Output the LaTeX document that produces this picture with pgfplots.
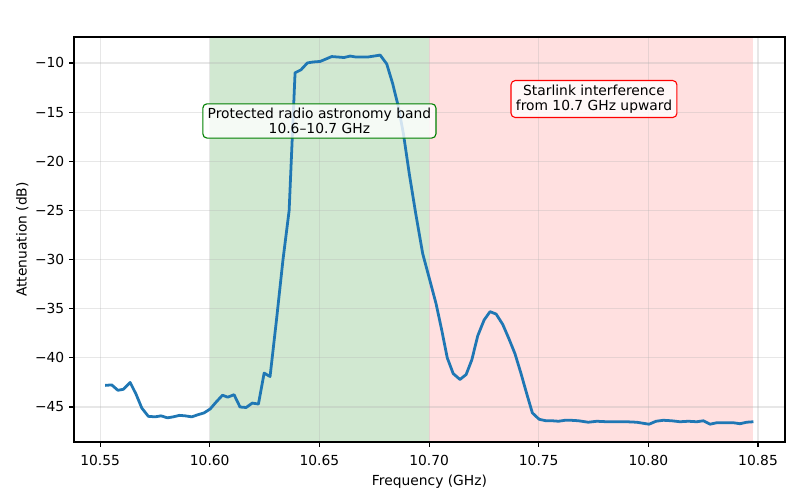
\documentclass[border=0pt]{standalone}
\usepackage{fontspec}
\setmainfont{DejaVu Sans}
\usepackage{pgfplots}
\pgfplotsset{compat=1.18}
\definecolor{mplblue}{HTML}{1F77B4}
\definecolor{bandgreen}{RGB}{209,232,209}
\definecolor{bandred}{RGB}{255,224,224}
\definecolor{gridgray}{RGB}{176,176,176}
\definecolor{boxgreen}{RGB}{0,128,0}
\definecolor{boxred}{RGB}{255,0,0}
\pgfplotsset{
  myaxis/.style={
    at={(53.28bp,41.76bp)}, anchor=south west,
    scale only axis, width=511.92bp, height=291.6bp,
    xmin=10.5381, xmax=10.8623, ymin=-48.56, ymax=-7.36,
  }
}
\begin{document}
\begin{tikzpicture}
\path[use as bounding box] (0,0) rectangle (576bp,360bp);
\begin{axis}[myaxis, hide axis]
\addplot[fill=bandgreen, draw=none] coordinates {(10.6,-50) (10.7,-50) (10.7,-5) (10.6,-5)};
\addplot[fill=bandred, draw=none] coordinates {(10.7,-50) (10.8479,-50) (10.8479,-5) (10.7,-5)};
\end{axis}
\begin{axis}[
  myaxis,
  axis line style={line width=0.8bp},
  tick align=outside, major tick length=3.5bp,
  every tick/.style={black, line width=0.8bp},
  xtick={10.55,10.60,10.65,10.70,10.75,10.80,10.85},
  xticklabels={10.55,10.60,10.65,10.70,10.75,10.80,10.85},
  ytick={-45,-40,-35,-30,-25,-20,-15,-10},
  yticklabels={−45,−40,−35,−30,−25,−20,−15,−10},
  xtick pos=bottom, ytick pos=left,
  tick label style={font=\fontsize{10}{12}\selectfont},
  xticklabel style={yshift=-2.5bp},
  grid=major,
  major grid style={gridgray, opacity=0.3, line width=0.8bp},
  xlabel={Frequency (GHz)}, ylabel={Attenuation (dB)},
  label style={font=\fontsize{10}{12}\selectfont},
  xlabel style={yshift=0bp},
  ylabel style={yshift=-2bp},
]
\addplot[mplblue, line width=2bp, line join=round] coordinates {
(10.5523,-42.8) (10.5553,-42.75) (10.5581,-43.3) (10.5606,-43.2) (10.5637,-42.5)
(10.5664,-43.7) (10.5690,-45.1) (10.5720,-45.95) (10.5751,-46.0) (10.5778,-45.9)
(10.5807,-46.1) (10.5834,-46.0) (10.5862,-45.85) (10.5888,-45.9) (10.5918,-46.0)
(10.5944,-45.8) (10.5974,-45.6) (10.6002,-45.2) (10.6029,-44.5) (10.6058,-43.8)
(10.6082,-44.0) (10.6111,-43.75) (10.6138,-45.0) (10.6166,-45.05) (10.6194,-44.6)
(10.6222,-44.7) (10.6248,-41.55) (10.6275,-41.9) (10.6305,-36.0) (10.6334,-30.0)
(10.6362,-25.0) (10.6389,-11.0) (10.6416,-10.7) (10.6445,-10.0) (10.6472,-9.9)
(10.6503,-9.85) (10.6530,-9.6) (10.6556,-9.35) (10.6586,-9.4) (10.6612,-9.45)
(10.6640,-9.3) (10.6667,-9.4) (10.6693,-9.4) (10.6720,-9.4) (10.6749,-9.3)
(10.6777,-9.2) (10.6807,-10.1) (10.6834,-12.1) (10.6860,-14.45) (10.6883,-17.2)
(10.6910,-21.3) (10.6939,-25.3) (10.6971,-29.4) (10.7001,-31.9) (10.7032,-34.5)
(10.7058,-37.2) (10.7083,-40.0) (10.7110,-41.6) (10.7141,-42.2) (10.7169,-41.7)
(10.7195,-40.2) (10.7222,-37.75) (10.7251,-36.15) (10.7278,-35.3) (10.7306,-35.55)
(10.7336,-36.6) (10.7365,-38.1) (10.7392,-39.6) (10.7418,-41.5) (10.7446,-43.7)
(10.7471,-45.6) (10.7502,-46.25) (10.7533,-46.4) (10.7562,-46.4) (10.7590,-46.45)
(10.7620,-46.35) (10.7647,-46.35) (10.7681,-46.4) (10.7726,-46.55) (10.7765,-46.45)
(10.7810,-46.5) (10.7856,-46.5) (10.7901,-46.5) (10.7947,-46.55) (10.8003,-46.75)
(10.8035,-46.45) (10.8068,-46.35) (10.8106,-46.4) (10.8144,-46.5) (10.8182,-46.45)
(10.8221,-46.5) (10.8251,-46.4) (10.8281,-46.75) (10.8312,-46.6) (10.8350,-46.6)
(10.8387,-46.6) (10.8418,-46.7) (10.8448,-46.55) (10.8479,-46.5)
};
\node[draw=boxgreen, fill=white, fill opacity=0.8, text opacity=1, rounded corners=3bp,
  line width=0.8bp, align=center, inner xsep=3.5bp, inner ysep=3bp,
  font=\fontsize{10}{11}\selectfont] at (axis cs:10.65,-15.9)
  {Protected radio astronomy band\\10.6–10.7 GHz};
\node[draw=boxred, fill=white, fill opacity=0.8, text opacity=1, rounded corners=3bp,
  line width=0.8bp, align=center, inner xsep=3.5bp, inner ysep=3bp,
  font=\fontsize{10}{11}\selectfont] at (axis cs:10.7752,-13.67)
  {Starlink interference\\from 10.7 GHz upward};
\node[anchor=base, yshift=6bp, font=\fontsize{12}{14}\selectfont] at (rel axis cs:0.5,1)
  {DYKB "915M" Filter Attenuation Profile};
\end{axis}
\end{tikzpicture}
\end{document}
